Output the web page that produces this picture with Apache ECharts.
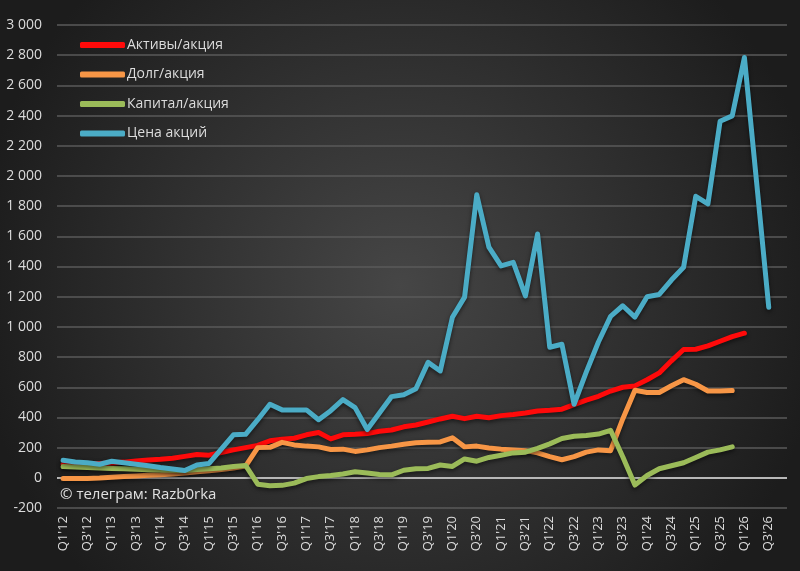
<!DOCTYPE html>
<html lang="ru">

<head>
    <meta charset="UTF-8">
    <title>Активы, долг, капитал и цена акций</title>
    <script src="https://cdn.jsdelivr.net/npm/echarts@6/dist/echarts.min.js"></script>
    <style>
        html, body { margin: 0; padding: 0; background: #2a2a2a; }
    </style>
</head>

<body>
    <div id="main" style="width: 800px;height:571px;"></div>
    <script type="text/javascript">
        // quarters Q1'12 .. Q4'26
        const quarters = [];
        for (let y = 12; y <= 26; y++) {
            for (let q = 1; q <= 4; q++) quarters.push('Q' + q + "'" + y);
        }

        const assets = [88, 90, 92, 95, 98, 104, 112, 118, 123, 130, 142, 155, 150, 168, 185, 200,
            215, 245, 255, 262, 285, 300, 258, 285, 288, 293, 308, 317, 338, 350, 370, 390,
            408, 392, 408, 398, 412, 420, 430, 443, 448, 455, 485, 515, 540, 575,
            600, 609, 650, 695, 775, 850, 852, 874, 905, 935, 958];
        const debt = [-5, -5, -5, -2, 3, 8, 12, 17, 20, 25, 32, 40, 47, 55, 65, 78,
            200, 202, 235, 218, 210, 205, 188, 190, 175, 185, 200, 210, 222, 232, 235, 238,
            265, 205, 210, 198, 190, 185, 180, 165, 140, 120, 140, 170, 185, 180,
            390, 580, 565, 565, 610, 650, 620, 575, 575, 578];
        const equity = [75, 72, 68, 65, 62, 60, 57, 54, 52, 50, 48, 55, 60, 65, 75, 82,
            -42, -52, -50, -35, -5, 8, 15, 25, 40, 32, 22, 20, 50, 60, 62, 85,
            75, 125, 110, 135, 150, 165, 170, 195, 225, 260, 275, 280, 290, 315,
            140, -48, 15, 60, 80, 100, 135, 170, 185, 205];
        const price = [116, 105, 100, 90, 110, 100, 90, 80, 68, 58, 48, 85, 95, 190, 285, 288,
            385, 487, 450, 450, 450, 385, 445, 518, 465, 320, 430, 538, 550, 590, 765, 708,
            1064, 1197, 1875, 1528, 1404, 1428, 1205, 1615, 865, 885, 487, 700, 900, 1070,
            1140, 1065, 1200, 1215, 1310, 1395, 1865, 1815, 2362, 2398, 2785, 1960, 1130];

        const names = ['Активы/акция', 'Долг/акция', 'Капитал/акция', 'Цена акций'];
        const colors = ['#ff0a0a', '#f79646', '#9bbb59', '#4bacc6'];
        const yTicks = { min: -200, max: 3000, step: 200 };

        const font = '"Open Sans", "Noto Sans", sans-serif';

        function lineSeries(name, data, color) {
            return {
                name: name,
                type: 'line',
                data: data,
                showSymbol: false,
                symbol: 'none',
                lineStyle: {
                    width: 5,
                    color: color,
                    cap: 'round',
                    join: 'round',
                    shadowColor: 'rgba(0,0,0,0.55)',
                    shadowBlur: 4,
                    shadowOffsetY: 2
                },
                itemStyle: { color: color },
                z: 3
            };
        }

        let myChart = echarts.init(document.getElementById('main'));

        const series = [
            lineSeries(names[0], assets, colors[0]),
            lineSeries(names[1], debt, colors[1]),
            lineSeries(names[2], equity, colors[2]),
            lineSeries(names[3], price, colors[3])
        ];
        // brighter zero line
        series[0].markLine = {
            silent: true,
            symbol: 'none',
            label: { show: false },
            lineStyle: { color: '#b8b8b8', width: 2, type: 'solid' },
            data: [{ yAxis: 0 }],
            z: 1
        };

        let options = {
            backgroundColor: {
                type: 'radial', x: 0.5, y: 0.5, r: 0.75,
                colorStops: [
                    { offset: 0, color: '#464646' },
                    { offset: 1, color: '#1c1c1c' }
                ]
            },
            animation: false,
            textStyle: { fontFamily: font },
            grid: { left: 57, right: 13, top: 25, bottom: 63 },
            legend: {
                orient: 'vertical',
                left: 80,
                top: 38,
                padding: 0,
                itemWidth: 45,
                itemHeight: 6,
                itemGap: 15.5,
                icon: 'roundRect',
                textStyle: { color: '#dcdcdc', fontSize: 14, fontFamily: font, padding: [0, 0, 0, -3] },
                data: names
            },
            xAxis: {
                type: 'category',
                data: quarters,
                boundaryGap: true,
                axisLine: { show: false, onZero: false },
                axisTick: { show: false },
                axisLabel: {
                    interval: 1,
                    rotate: 90,
                    color: '#dcdcdc',
                    fontSize: 13,
                    margin: 8,
                    fontFamily: font
                },
                splitLine: { show: false }
            },
            yAxis: {
                type: 'value',
                min: yTicks.min,
                max: yTicks.max,
                interval: yTicks.step,
                axisLine: { show: false },
                axisTick: { show: false },
                axisLabel: {
                    color: '#dcdcdc',
                    fontSize: 14,
                    margin: 15,
                    fontFamily: font,
                    formatter: v => String(v).replace(/\B(?=(\d{3})+(?!\d))/g, ' ')
                },
                splitLine: { lineStyle: { color: '#5a5a5a', width: 1.5 } }
            },
            graphic: [{
                type: 'text',
                left: 60,
                top: 487,
                style: {
                    text: '© телеграм: Razb0rka',
                    fill: '#e0e0e0',
                    font: '15px ' + font
                },
                z: 10
            }],
            series: series
        };

        myChart.setOption(options);
    </script>
</body>

</html>
